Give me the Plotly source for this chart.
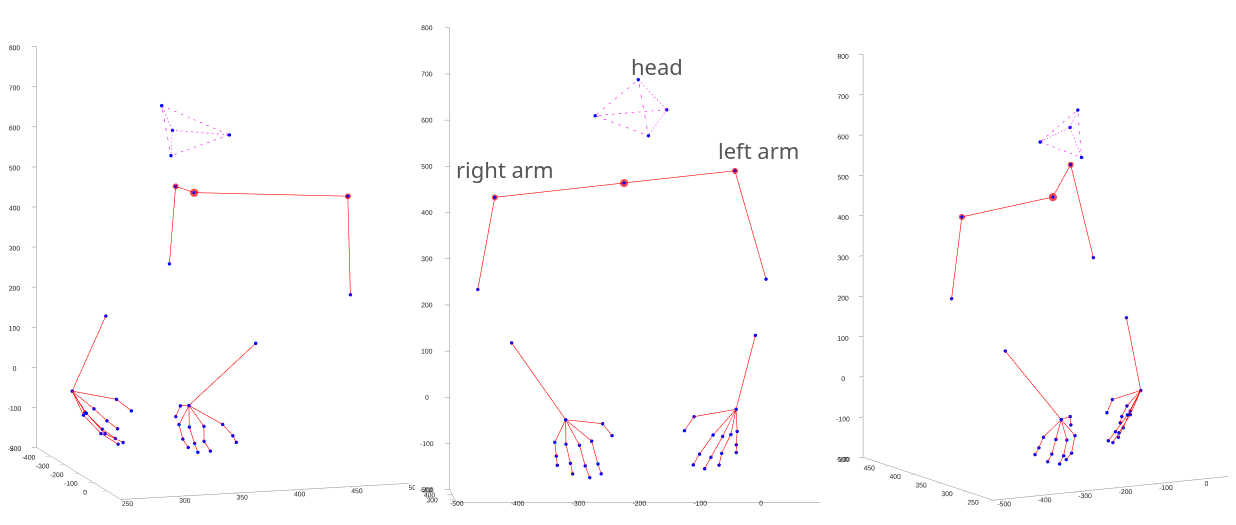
import plotly.graph_objects as go

# ---------------- data (3D joint positions) ----------------
head_x = [-198, -149, -268, -181]
head_y = [322, 375, 340, 328]
head_z = [707, 636, 627, 585]
head_edges = [(0, 1), (0, 2), (0, 3), (1, 2), (1, 3), (2, 3)]

# right elbow, right shoulder, neck, left shoulder, left elbow
body_x = [-460, -432, -220, -33, 18]
body_y = [361, 363, 353, 464, 460]
body_z = [249, 448, 480, 494, 260]
body_edges = [(0, 1), (1, 2), (2, 3), (3, 4)]

# forearm end, wrist, thumb(2), four fingers (3 each)
rh_x = [-407, -320, -258, -242, -337, -334, -332, -319, -311, -307, -297, -287, -279, -277, -266, -260]
rh_y = [299, 259, 290, 301, 280, 291, 300, 270, 284, 295, 266, 280, 294, 266, 281, 296]
rh_z = [140, -22, -34, -61, -73, -104, -125, -76, -119, -143, -78, -124, -151, -69, -120, -143]

lh_x = [-3, -37, -106, -122, -75, -97, -107, -59, -78, -88, -45, -60, -64, -34, -35, -35]
lh_y = [380, 326, 327, 325, 322, 328, 334, 329, 336, 340, 340, 342, 348, 355, 364, 367]
lh_z = [147, -7, -23, -53, -62, -104, -128, -66, -112, -137, -63, -104, -130, -58, -88, -105]

hand_edges = [(0, 1), (1, 2), (2, 3), (1, 4), (4, 5), (5, 6), (1, 7), (7, 8), (8, 9),
              (1, 10), (10, 11), (11, 12), (1, 13), (13, 14), (14, 15)]

x_range = [-500, 98]
y_range = [250, 500]
z_range = [-200, 800]
x_ticks = [-500, -400, -300, -200, -100, 0]
z_ticks = [-200, -100, 0, 100, 200, 300, 400, 500, 600, 700, 800]
y_ticks_side = [250, 300, 350, 400, 450, 500]
y_ticks_front = [300, 400, 500]


def seg(xs, ys, zs, edges):
    X, Y, Z = [], [], []
    for a, b in edges:
        X += [xs[a], xs[b], None]
        Y += [ys[a], ys[b], None]
        Z += [zs[a], zs[b], None]
    return X, Y, Z


def labels(vals):
    return [str(v) for v in vals]  # plain hyphen minus like the original


fig = go.Figure()

W = 1236.0
views = [
    # scene name, eye direction, aspect ratio, y ticks, x-domain (px), camera centre shift
    ("scene", (0.941, -0.283, 0.186), (1.140, 1.165, 1.587), y_ticks_side, (0, 407),
     (-0.0118, -0.0391, 0)),
    ("scene2", (-0.018, -0.9994, 0.035), (1.416, 1.416, 1.799), y_ticks_front, (407, 828),
     (-0.0370, 0.0007, 0)),
    ("scene3", (-0.476, -0.860, 0.183), (1.075, 1.044, 1.595), y_ticks_side, (828, 1236),
     (-0.0306, 0.0170, 0)),
]

RED = "#ff0000"
BLUE = "#0000ff"
MAG = "#ff00ff"

for sc, eye, asp, yt, dom, cen in views:
    hx, hy, hz = seg(head_x, head_y, head_z, head_edges)
    fig.add_trace(go.Scatter3d(x=hx, y=hy, z=hz, mode="lines", scene=sc,
                               line=dict(color=MAG, width=1.2, dash="dash"),
                               showlegend=False, hoverinfo="skip"))
    for xs, ys, zs, ed in [(body_x, body_y, body_z, body_edges),
                           (rh_x, rh_y, rh_z, hand_edges),
                           (lh_x, lh_y, lh_z, hand_edges)]:
        lx, ly, lz = seg(xs, ys, zs, ed)
        fig.add_trace(go.Scatter3d(x=lx, y=ly, z=lz, mode="lines", scene=sc,
                                   line=dict(color=RED, width=1.2),
                                   showlegend=False, hoverinfo="skip"))
    # red joint markers (shoulders + neck)
    fig.add_trace(go.Scatter3d(x=body_x[1:4], y=body_y[1:4], z=body_z[1:4], mode="markers",
                               scene=sc, marker=dict(color=RED, size=[7, 9.5, 7], line=dict(width=0)),
                               showlegend=False, hoverinfo="skip"))
    allx = head_x + body_x + rh_x + lh_x
    ally = head_y + body_y + rh_y + lh_y
    allz = head_z + body_z + rh_z + lh_z
    fig.add_trace(go.Scatter3d(x=allx, y=ally, z=allz, mode="markers", scene=sc,
                               marker=dict(color=BLUE, size=2, line=dict(width=0)),
                               showlegend=False, hoverinfo="skip"))

    ax_common = dict(showbackground=False, showgrid=False, zeroline=False,
                     showline=True, linecolor="#8c8c8c", linewidth=1,
                     ticks="outside", ticklen=5, tickcolor="#8c8c8c", tickangle=0,
                     tickfont=dict(family="Liberation Sans", size=9, color="#262626"),
                     title=dict(text=""), showspikes=False, tickmode="array")
    L = 2.0
    fig.update_layout(**{sc: dict(
        domain=dict(x=[dom[0] / W, dom[1] / W], y=[0.021, 1.0]),
        xaxis=dict(range=x_range, tickvals=x_ticks, ticktext=labels(x_ticks), **ax_common),
        yaxis=dict(range=y_range, tickvals=yt, ticktext=labels(yt), **ax_common),
        zaxis=dict(range=z_range, tickvals=z_ticks, ticktext=labels(z_ticks), **ax_common),
        aspectmode="manual",
        aspectratio=dict(x=asp[0], y=asp[1], z=asp[2]),
        camera=dict(eye=dict(x=eye[0] * L + cen[0], y=eye[1] * L + cen[1], z=eye[2] * L + cen[2]),
                    up=dict(x=0, y=0, z=1), center=dict(x=cen[0], y=cen[1], z=cen[2]),
                    projection=dict(type="orthographic")),
        bgcolor="white",
    )})

ann_font = dict(family="Noto Sans", size=22, color="#555555")
ann = dict(xref="paper", yref="paper", showarrow=False, font=ann_font,
           xanchor="center", yanchor="middle")
fig.update_layout(
    width=1236, height=525,
    margin=dict(l=0, r=0, t=0, b=0),
    paper_bgcolor="white",
    annotations=[
        dict(text="head", x=0.5251, y=0.8895, **ann),
        dict(text="right arm", x=0.4017, y=0.6933, **ann),
        dict(text="left arm", x=0.6068, y=0.7295, **ann),
    ],
)

fig.write_html("out.html")
